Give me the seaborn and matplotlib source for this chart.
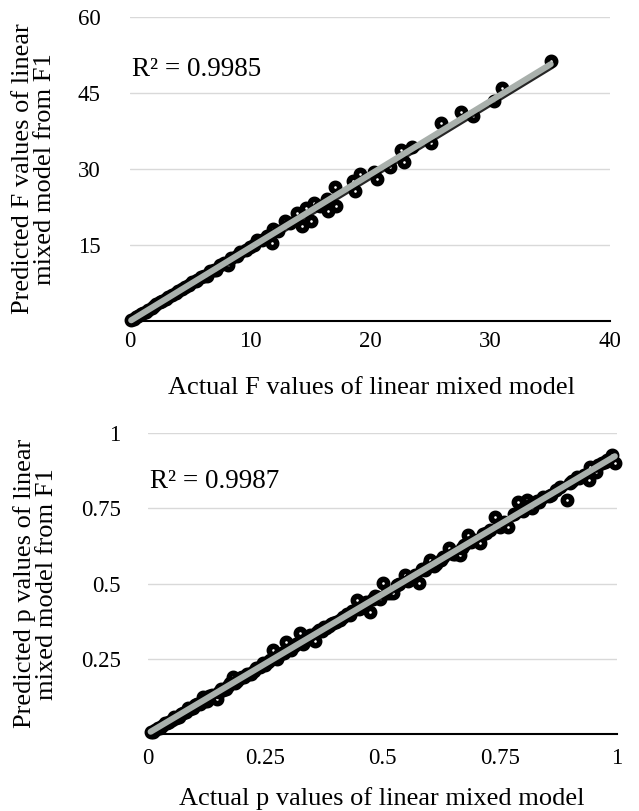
import numpy as np
import pandas as pd
import matplotlib
matplotlib.use("Agg")
import matplotlib.pyplot as plt
import matplotlib.patheffects as pe
import seaborn as sns

# ---- data ----
F_actual = [0.1, 0.3, 0.5, 0.7, 0.9, 1.1, 1.3, 1.5, 1.8, 2.0, 2.2, 2.5, 2.7, 3.0, 3.2,
            3.5, 3.8, 4.0, 4.3, 4.6, 4.9, 5.2, 5.5, 5.6, 5.9, 6.2, 6.4, 6.7, 7.0, 7.2,
            7.5, 7.8, 8.2, 8.4, 8.9, 9.2, 9.7, 10.0, 10.3, 10.6, 11.0, 11.4, 11.8, 11.9,
            12.3, 12.9, 13.3, 13.9, 14.3, 14.7, 15.1, 15.3, 15.8, 16.4, 16.5, 17.1, 17.2,
            18.6, 18.75, 19.2, 20.3, 20.6, 21.7, 22.6, 22.8, 23.5, 25.1, 25.9, 27.6, 28.6,
            30.3, 31.0, 35.06]
F_pred = [0.1, 0.4, 0.7, 1.0, 1.3, 1.6, 1.8, 2.2, 2.6, 2.9, 3.2, 3.6, 3.9, 4.3, 4.7,
          5.0, 5.5, 5.8, 6.2, 6.7, 7.0, 7.6, 7.9, 8.1, 8.6, 8.9, 8.8, 9.8, 10.1, 10.1,
          10.9, 11.3, 11.0, 12.3, 12.7, 13.5, 14.0, 14.5, 15.0, 16.0, 15.9, 16.7, 15.4, 18.0,
          17.8, 19.7, 19.2, 21.3, 18.7, 22.3, 19.7, 23.3, 22.6, 24.0, 21.7, 26.3, 22.7,
          27.6, 25.6, 29.0, 29.3, 28.0, 30.3, 33.6, 31.4, 34.3, 35.1, 39.1, 41.1, 40.4,
          43.4, 45.9, 51.2]

p_actual = [0.005, 0.01, 0.015, 0.02, 0.025, 0.03, 0.035, 0.04, 0.045, 0.05, 0.055, 0.06,
            0.065, 0.07, 0.075, 0.08, 0.085, 0.09, 0.095, 0.1, 0.105, 0.11, 0.117, 0.12,
            0.125, 0.13, 0.135, 0.14, 0.146, 0.15, 0.155, 0.16, 0.165, 0.17, 0.175, 0.181,
            0.185, 0.19, 0.195, 0.2, 0.205, 0.21, 0.215, 0.22, 0.225, 0.23, 0.238, 0.245,
            0.25, 0.255, 0.26, 0.267, 0.275, 0.28, 0.285, 0.29, 0.295, 0.305, 0.31, 0.315,
            0.324, 0.33, 0.335, 0.34, 0.345, 0.356, 0.36, 0.365, 0.37, 0.375, 0.38, 0.385,
            0.39, 0.395, 0.4, 0.41, 0.415, 0.425, 0.43, 0.435, 0.445, 0.45, 0.455, 0.46,
            0.465, 0.473, 0.48, 0.485, 0.49, 0.495, 0.502, 0.51, 0.515, 0.523, 0.53, 0.535,
            0.548, 0.555, 0.56, 0.57, 0.577, 0.585, 0.59, 0.6, 0.601, 0.61, 0.615, 0.625,
            0.63, 0.641, 0.65, 0.655, 0.665, 0.67, 0.675, 0.683, 0.69, 0.695, 0.708, 0.715,
            0.72, 0.73, 0.74, 0.75, 0.76, 0.769, 0.78, 0.79, 0.8, 0.808, 0.815, 0.82,
            0.83, 0.835, 0.843, 0.855, 0.86, 0.87, 0.88, 0.893, 0.9, 0.905, 0.915, 0.92,
            0.93, 0.94, 0.943, 0.955, 0.96, 0.968, 0.975, 0.98, 0.989, 0.996]
p_pred = [0.005, 0.008, 0.012, 0.02, 0.02, 0.027, 0.035, 0.035, 0.04, 0.048, 0.055, 0.053,
          0.058, 0.067, 0.069, 0.072, 0.085, 0.082, 0.088, 0.095, 0.10, 0.1, 0.124, 0.11,
          0.11, 0.125, 0.13, 0.128, 0.115, 0.14, 0.15, 0.145, 0.148, 0.16, 0.17, 0.191,
          0.17, 0.175, 0.185, 0.19, 0.188, 0.2, 0.2, 0.2, 0.21, 0.22, 0.224, 0.235,
          0.228, 0.24, 0.245, 0.279, 0.25, 0.262, 0.27, 0.268, 0.307, 0.28, 0.292, 0.3,
          0.335, 0.3, 0.31, 0.32, 0.33, 0.31, 0.34, 0.345, 0.342, 0.355, 0.352, 0.36,
          0.365, 0.368, 0.372, 0.38, 0.39, 0.4, 0.395, 0.41, 0.446, 0.415, 0.42, 0.43,
          0.44, 0.407, 0.45, 0.46, 0.455, 0.45, 0.501, 0.47, 0.47, 0.468, 0.495, 0.5,
          0.529, 0.51, 0.52, 0.53, 0.501, 0.55, 0.545, 0.565, 0.579, 0.56, 0.565, 0.58,
          0.59, 0.618, 0.6, 0.6, 0.595, 0.62, 0.63, 0.662, 0.64, 0.645, 0.634, 0.665,
          0.67, 0.68, 0.723, 0.69, 0.705, 0.69, 0.73, 0.773, 0.74, 0.778, 0.76, 0.75,
          0.775, 0.77, 0.789, 0.79, 0.795, 0.81, 0.82, 0.778, 0.835, 0.84, 0.855, 0.85,
          0.86, 0.845, 0.889, 0.87, 0.895, 0.9, 0.905, 0.91, 0.928, 0.9]

F_xticks = [0, 10, 20, 30, 40]
F_yticks = [15, 30, 45, 60]
p_xticks = [0, 0.25, 0.5, 0.75, 1]
p_yticks = [0.25, 0.5, 0.75, 1]
p_ticklabels = ["0", "0.25", "0.5", "0.75", "1"]
p_yticklabels = ["0.25", "0.5", "0.75", "1"]

r2_F = "R² = 0.9985"
r2_p = "R² = 0.9987"

sns.set_style("white")
plt.rcParams['font.family'] = ['Liberation Serif', 'DejaVu Serif']

TICK_FS = 16.5
LABEL_FS = 19
R2_FS = 19.5

fig = plt.figure(figsize=(6.39, 8.11), dpi=100)
ax1 = fig.add_axes([130/639, 1-320.7/811, 480/639, 304/811])
ax2 = fig.add_axes([148.3/639, 1-734/811, 468.4/639, 300.7/811])

dfF = pd.DataFrame({"actual": F_actual, "pred": F_pred})
dfp = pd.DataFrame({"actual": p_actual, "pred": p_pred})

line_kws = dict(color="#A9B0AC", linewidth=4.4, solid_capstyle="round",
                path_effects=[pe.SimpleLineShadow(offset=(0.8, -1.3), shadow_color="black", alpha=0.85),
                              pe.Normal()])

for ax, df in [(ax1, dfF), (ax2, dfp)]:
    sns.scatterplot(data=df, x="actual", y="pred", ax=ax, color="white",
                    edgecolor="black", linewidth=4.0, s=36, zorder=3, legend=False)
    sns.regplot(data=df, x="actual", y="pred", ax=ax, scatter=False, ci=None,
                truncate=True, line_kws=dict(zorder=4, **line_kws))

def style(ax, xt, yt, xl, yl, xlim, ylim, xpad, ypad, xtl=None, ytl=None):
    ax.set_xlim(*xlim)
    ax.set_ylim(*ylim)
    ax.set_xticks(xt)
    ax.set_yticks(yt)
    if xtl is not None:
        ax.set_xticklabels(xtl)
    if ytl is not None:
        ax.set_yticklabels(ytl)
    ax.yaxis.grid(True, color="#D9D9D9", linewidth=1.0)
    ax.xaxis.grid(False)
    for s in ["top", "right", "left"]:
        ax.spines[s].set_visible(False)
    ax.spines["bottom"].set_color("black")
    ax.spines["bottom"].set_linewidth(1.5)
    ax.spines["bottom"].set_zorder(2)
    ax.tick_params(axis="x", length=0, pad=xpad, labelsize=TICK_FS, colors="black")
    ax.tick_params(axis="y", length=0, pad=ypad, labelsize=TICK_FS, colors="black")
    ax.set_xlabel(xl, fontsize=LABEL_FS, color="black")
    ax.set_ylabel(yl, fontsize=LABEL_FS, color="black", linespacing=1.0)
    ax.set_axisbelow(True)

style(ax1, F_xticks, F_yticks, "Actual F values of linear mixed model",
      "Predicted F values of linear\nmixed model from F1", (0, 40), (0, 60), 7.5, 21)
style(ax2, p_xticks, p_yticks, "Actual p values of linear mixed model",
      "Predicted p values of linear\nmixed model from F1", (0, 1), (0, 1), 10, 20,
      xtl=p_ticklabels, ytl=p_yticklabels)

ax1.xaxis.set_label_coords(0.503, -0.221)
ax1.xaxis.label.set_va("center")
ax1.yaxis.set_label_coords(-0.2, 0.5)
ax1.yaxis.label.set_va("center")
ax2.xaxis.set_label_coords(0.499, -0.213)
ax2.xaxis.label.set_va("center")
ax2.yaxis.set_label_coords(-0.24, 0.5)
ax2.yaxis.label.set_va("center")

ax1.text(0.0035, 0.805, r2_F, transform=ax1.transAxes, fontsize=R2_FS, va="baseline",
         ha="left", color="black")
ax2.text(0.004, 0.818, r2_p, transform=ax2.transAxes, fontsize=R2_FS, va="baseline",
         ha="left", color="black")

for ax in (ax1, ax2):
    for c in ax.collections:
        c.set_clip_on(False)
    for l in ax.lines:
        l.set_clip_on(False)

fig.savefig("out.png", dpi=100)
